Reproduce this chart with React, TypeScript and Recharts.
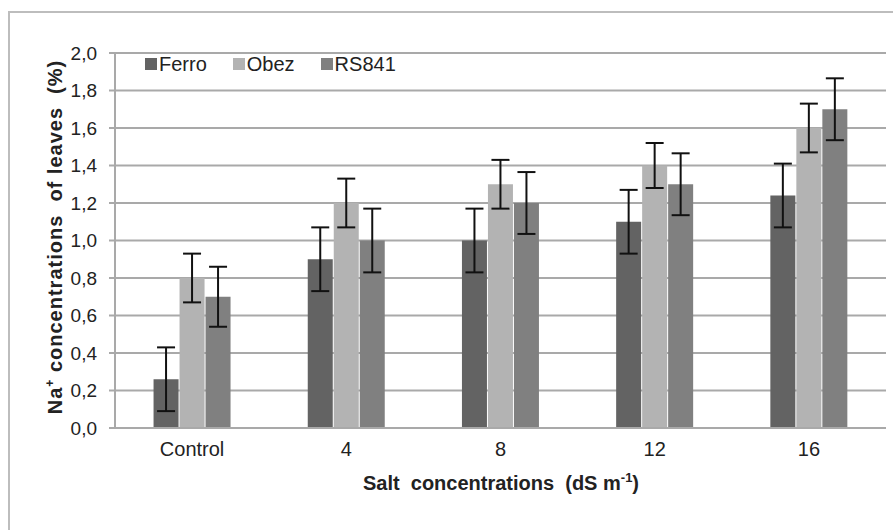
import { BarChart, Bar, XAxis, YAxis, CartesianGrid, ErrorBar, Legend } from 'recharts'

const categories = ['Control', '4', '8', '12', '16']
const ferro = [0.26, 0.9, 1.0, 1.1, 1.24]
const obez = [0.8, 1.2, 1.3, 1.4, 1.6]
const rs841 = [0.7, 1.0, 1.2, 1.3, 1.7]
const ferroErr = [0.17, 0.17, 0.17, 0.17, 0.17]
const obezErr = [0.13, 0.13, 0.13, 0.12, 0.13]
const rs841Err = [0.16, 0.17, 0.165, 0.165, 0.165]
const yTicks = [0, 0.2, 0.4, 0.6, 0.8, 1.0, 1.2, 1.4, 1.6, 1.8, 2.0]

const series = [
  { key: 'Ferro', color: '#636363' },
  { key: 'Obez', color: '#b3b3b3' },
  { key: 'RS841', color: '#808080' },
]

const data = categories.map((c, i) => ({
  cat: c,
  Ferro: ferro[i],
  Obez: obez[i],
  RS841: rs841[i],
  FerroErr: ferroErr[i],
  ObezErr: obezErr[i],
  RS841Err: rs841Err[i],
}))

const font = '"Liberation Sans", Arial, sans-serif'
const gridColor = '#a9a9a9'

function LegendBox() {
  return (
    <div style={{ display: 'flex', fontFamily: font, fontSize: 20, color: '#222', lineHeight: '20px' }}>
      {series.map((s, i) => (
        <div key={s.key} style={{ display: 'flex', alignItems: 'center', marginRight: i < 2 ? 26 : 0 }}>
          <span style={{ width: 12, height: 12, background: s.color, display: 'inline-block', marginRight: 2 }} />
          <span>{s.key}</span>
        </div>
      ))}
    </div>
  )
}

export default function App() {
  return (
    <div style={{ position: 'absolute', left: 0, top: 0, width: 893, height: 530, background: '#fff', overflow: 'hidden' }}>
      <div
        style={{
          position: 'absolute',
          left: 8,
          top: 11,
          width: 900,
          height: 540,
          borderLeft: '2px solid #bdbdbd',
          borderTop: '2px solid #bdbdbd',
        }}
      />
      <div style={{ position: 'absolute', left: 0, top: 0 }}>
        <BarChart
          width={893}
          height={530}
          data={data}
          margin={{ top: 33, right: 7, bottom: 42, left: 0 }}
          barCategoryGap="25%"
          barGap={1}
        >
          <CartesianGrid horizontal vertical={false} stroke={gridColor} strokeWidth={2} />
          <XAxis
            dataKey="cat"
            height={60}
            axisLine={{ stroke: gridColor, strokeWidth: 2 }}
            tickLine={false}
            tickSize={0}
            tickMargin={14}
            tick={{ fill: '#222', fontSize: 20, fontFamily: font }}
            label={{
              content: () => (
                <text
                  x={501}
                  y={490}
                  textAnchor="middle"
                  fontFamily={font}
                  fontSize={20}
                  fontWeight="bold"
                  fill="#222"
                  style={{ whiteSpace: 'pre' }}
                >
                  {'Salt  concentrations  (dS m'}
                  <tspan fontSize={13} dy={-8}>-1</tspan>
                  <tspan dy={8}>)</tspan>
                </text>
              ),
            }}
          />
          <YAxis
            width={115}
            domain={[0, 2]}
            ticks={yTicks}
            interval={0}
            axisLine={{ stroke: gridColor, strokeWidth: 2 }}
            tickLine={{ stroke: gridColor, strokeWidth: 2 }}
            tickSize={6}
            tickMargin={12}
            tickFormatter={(v: number) => v.toFixed(1).replace('.', ',')}
            tick={{ fill: '#222', fontSize: 19, fontFamily: font }}
            label={{
              content: () => (
                <text
                  x={62}
                  y={237}
                  transform="rotate(-90 62 237)"
                  textAnchor="middle"
                  fontFamily={font}
                  fontSize={20}
                  fontWeight="bold"
                  fill="#222"
                  letterSpacing={1}
                  style={{ whiteSpace: 'pre' }}
                >
                  Na
                  <tspan fontSize={12} dy={-8}>+</tspan>
                  <tspan dy={8}>{' concentrations  of leaves  (%)'}</tspan>
                </text>
              ),
            }}
          />
          <Legend
            verticalAlign="top"
            align="left"
            content={() => <LegendBox />}
            wrapperStyle={{ position: 'absolute', left: 145, top: 54, width: 'auto' }}
          />
          {series.map((s) => (
            <Bar key={s.key} dataKey={s.key} fill={s.color} isAnimationActive={false}>
              <ErrorBar dataKey={`${s.key}Err`} width={9} stroke="#111" strokeWidth={2} />
            </Bar>
          ))}
        </BarChart>
      </div>
    </div>
  )
}
